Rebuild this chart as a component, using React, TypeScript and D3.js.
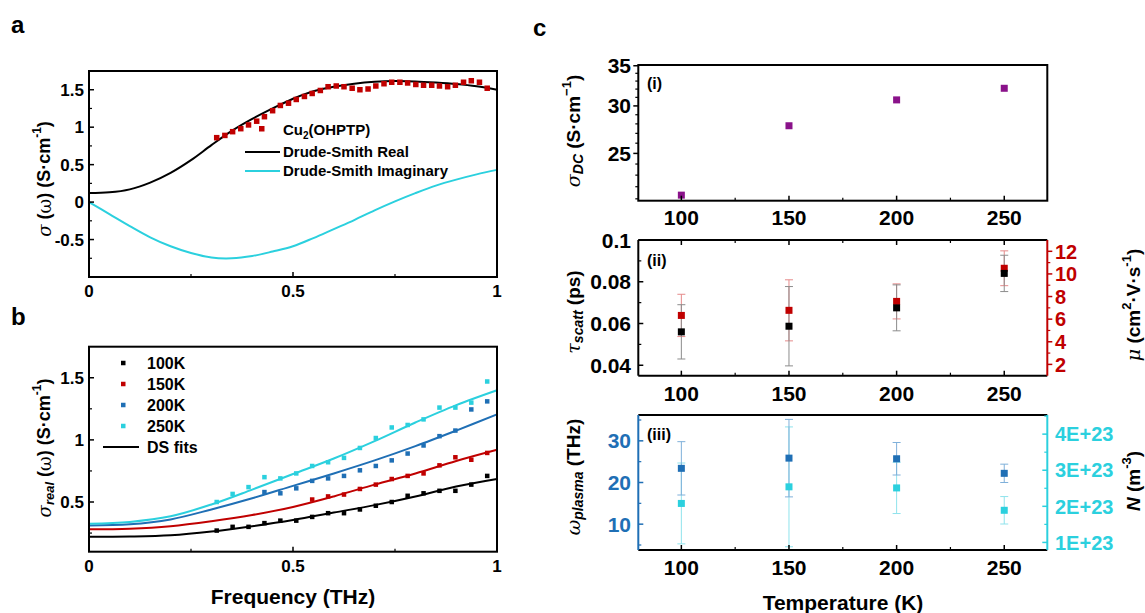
import React from 'react';
import * as d3 from 'd3';

const FONT = '"Liberation Sans", Arial, Helvetica, sans-serif';
const GREEK = '"DejaVu Serif", "Liberation Serif", serif';
const RED = '#c00000';
const BLUE = '#1f6fb5';
const CYAN = '#2bd0de';
const PURPLE = '#8a128a';

// ---- panel a : Cu2(OHPTP) spectrum + Drude-Smith fit
const freqA = [0.313, 0.333, 0.352, 0.372, 0.391, 0.411, 0.43, 0.45, 0.469, 0.489, 0.508, 0.528, 0.547, 0.567, 0.586, 0.606, 0.625, 0.645, 0.664, 0.684, 0.703, 0.723, 0.742, 0.762, 0.781, 0.801, 0.82, 0.84, 0.859, 0.879, 0.898, 0.918, 0.937, 0.957, 0.976];
const sigmaA = [0.86, 0.89, 0.94, 0.98, 1.03, 1.08, 1.14, 1.22, 1.29, 1.32, 1.37, 1.41, 1.45, 1.49, 1.54, 1.55, 1.54, 1.52, 1.5, 1.51, 1.55, 1.58, 1.6, 1.6, 1.59, 1.57, 1.56, 1.56, 1.55, 1.54, 1.56, 1.6, 1.62, 1.6, 1.52];
const fitFreqA = [0, 0.05, 0.1, 0.15, 0.2, 0.25, 0.3, 0.35, 0.4, 0.45, 0.5, 0.55, 0.6, 0.65, 0.7, 0.75, 0.8, 0.85, 0.9, 0.95, 1];
const dsReal = [0.12, 0.13, 0.17, 0.26, 0.39, 0.56, 0.76, 0.95, 1.11, 1.25, 1.38, 1.48, 1.54, 1.58, 1.605, 1.615, 1.61, 1.595, 1.575, 1.545, 1.5];
const dsImag = [0, -0.16, -0.32, -0.47, -0.59, -0.68, -0.74, -0.75, -0.72, -0.66, -0.59, -0.48, -0.36, -0.24, -0.11, 0.01, 0.12, 0.22, 0.3, 0.37, 0.43];

// ---- panel b : temperature series
const freqB = [0.313, 0.352, 0.391, 0.43, 0.469, 0.508, 0.547, 0.586, 0.625, 0.664, 0.703, 0.742, 0.781, 0.82, 0.859, 0.898, 0.937, 0.976];
const seriesNames = ['100K', '150K', '200K', '250K'];
const seriesColors = ['#000000', RED, BLUE, CYAN];
const s100 = [0.27, 0.3, 0.3, 0.33, 0.35, 0.35, 0.38, 0.41, 0.41, 0.44, 0.47, 0.5, 0.55, 0.57, 0.59, 0.59, 0.64, 0.71];
const s150 = [null, null, null, null, null, null, 0.52, 0.545, 0.56, 0.605, 0.64, 0.685, 0.71, 0.73, 0.795, 0.86, 0.84, 0.895];
const s200 = [null, null, null, 0.58, 0.57, 0.61, 0.67, 0.69, 0.71, 0.755, 0.79, 0.835, 0.89, 0.955, 1.03, 1.075, 1.245, 1.31];
const s250 = [0.5, 0.565, 0.62, 0.7, 0.69, 0.73, 0.79, 0.82, 0.855, 0.935, 1.015, 1.1, 1.12, 1.165, 1.26, 1.26, 1.3, 1.47];
const fitFreqB = [0, 0.1, 0.2, 0.3, 0.4, 0.5, 0.6, 0.7, 0.8, 0.9, 1];
const fit100 = [0.22, 0.222, 0.232, 0.262, 0.305, 0.355, 0.415, 0.475, 0.545, 0.625, 0.685];
const fit150 = [0.28, 0.285, 0.305, 0.345, 0.395, 0.46, 0.545, 0.64, 0.73, 0.83, 0.92];
const fit200 = [0.31, 0.32, 0.36, 0.44, 0.53, 0.63, 0.73, 0.835, 0.95, 1.075, 1.205];
const fit250 = [0.325, 0.34, 0.385, 0.48, 0.6, 0.725, 0.85, 0.99, 1.14, 1.28, 1.4];

// ---- panel c : fit parameters vs temperature
const temps = [100, 150, 200, 250];
const sigmaDC = [21.3, 27.8, 30.7, 32.1];
const tauScatt = [0.056, 0.0587, 0.0675, 0.084];
const tauErr = [0.013, 0.019, 0.011, 0.0087];
const mobility = [6.33, 6.78, 7.57, 10.5];
const mobilityErr = [1.87, 2.7, 1.55, 1.54];
const omegaP = [23.4, 25.85, 25.7, 22.2];
const omegaErr = [6.4, 9.3, 3.9, 2.2];
const carrierN = [2.08e23, 2.54e23, 2.51e23, 1.89e23];
const carrierErr = [1.12e23, 1.66e23, 0.71e23, 0.38e23];

const tempTicks = [100, 150, 200, 250];
const tempMinor = [125, 175, 225];
const nTicks = [1e23, 2e23, 3e23, 4e23];
const nTickLabels = ['1E+23', '2E+23', '3E+23', '4E+23'];

type Sc = (v: number) => number;

function yTicks(key: string, s: Sc, x: number, majors: number[], minors: number[], dir: number, color: string) {
  const out: any[] = [];
  majors.forEach((v, i) => out.push(<line key={key + 'M' + i} x1={x} x2={x + dir * 5} y1={s(v)} y2={s(v)} stroke={color} strokeWidth={1.5} />));
  minors.forEach((v, i) => out.push(<line key={key + 'm' + i} x1={x} x2={x + dir * 3} y1={s(v)} y2={s(v)} stroke={color} strokeWidth={1.2} />));
  return out;
}

function xTicks(key: string, s: Sc, y: number, majors: number[], minors: number[], dir: number, color: string) {
  const out: any[] = [];
  majors.forEach((v, i) => out.push(<line key={key + 'M' + i} y1={y} y2={y + dir * 5} x1={s(v)} x2={s(v)} stroke={color} strokeWidth={1.5} />));
  minors.forEach((v, i) => out.push(<line key={key + 'm' + i} y1={y} y2={y + dir * 3} x1={s(v)} x2={s(v)} stroke={color} strokeWidth={1.2} />));
  return out;
}

function squares(key: string, xs: number[], ys: (number | null)[], sx: Sc, sy: Sc, size: number, color: string) {
  return ys.map((v, i) => v == null ? null : (
    <rect key={key + i} x={sx(xs[i]) - size / 2} y={sy(v) - size / 2} width={size} height={size} fill={color} />
  ));
}

function errBars(key: string, xs: number[], ys: number[], es: number[], sx: Sc, sy: Sc, color: string) {
  return ys.map((v, i) => {
    const x = sx(xs[i]);
    const t = sy(v + es[i]);
    const b = sy(v - es[i]);
    return (
      <g key={key + i} stroke={color} strokeWidth={1}>
        <line x1={x} x2={x} y1={t} y2={b} />
        <line x1={x - 4} x2={x + 4} y1={t} y2={t} />
        <line x1={x - 4} x2={x + 4} y1={b} y2={b} />
      </g>
    );
  });
}

export default function App() {
  const xA = d3.scaleLinear().domain([0, 1]).range([89, 497]);
  const yA = d3.scaleLinear().domain([-1, 1.75]).range([277, 71]);
  const yB = d3.scaleLinear().domain([0.1, 1.75]).range([551.7, 346.7]);
  const xC = d3.scaleLinear().domain([80, 270]).range([638.3, 1047.3]);
  const yC1 = d3.scaleLog().domain([20.85, 35.1]).range([200.7, 65]);
  const yC2L = d3.scaleLinear().domain([0.035, 0.1]).range([375.7, 240]);
  const yC2R = d3.scaleLinear().domain([1, 13]).range([375.7, 240]);
  const yC3L = d3.scaleLinear().domain([3.8, 36.2]).range([550, 415]);
  const yC3R = d3.scaleLinear().domain([0.79e23, 4.53e23]).range([550, 415]);

  const lineA = (ys: number[]) => d3.line<number>().x((_, i) => xA(fitFreqA[i])).y(d => yA(d)).curve(d3.curveCatmullRom)(ys) || '';
  const lineB = (ys: number[]) => d3.line<number>().x((_, i) => xA(fitFreqB[i])).y(d => yB(d)).curve(d3.curveCatmullRom)(ys) || '';

  const bSeries = [s100, s150, s200, s250];
  const bFits = [fit100, fit150, fit200, fit250];

  const tickFs = 17;
  const cFs = 21;
  const [cx0, cx1] = xC.range();

  const tempLabels = (key: string, y: number) => tempTicks.map((t, i) => (
    <text key={key + i} x={xC(t)} y={y} textAnchor="middle" fontSize={cFs}>{t}</text>
  ));

  return (
    <svg width={1145} height={613} style={{ position: 'absolute', left: 0, top: 0, background: '#fff' }}
      fontFamily={FONT} fontWeight="bold">
      {/* panel letters */}
      <text x={11} y={33} fontSize={24}>a</text>
      <text x={11} y={325} fontSize={24}>b</text>
      <text x={533} y={36} fontSize={24}>c</text>

      {/* ================= panel a ================= */}
      <path d={lineA(dsReal)} fill="none" stroke="#000" strokeWidth={2} />
      <path d={lineA(dsImag)} fill="none" stroke={CYAN} strokeWidth={2} />
      {squares('pa', freqA, sigmaA, xA, yA, 5.5, RED)}
      <rect x={89} y={71} width={408} height={206} fill="none" stroke="#000" strokeWidth={2} />
      {yTicks('ay', yA, 89, [-0.5, 0, 0.5, 1, 1.5], [-0.75, -0.25, 0.25, 0.75, 1.25], 1, '#000')}
      {xTicks('ax', xA, 277, [0, 0.5, 1], [0.25, 0.75], -1, '#000')}
      {[-0.5, 0, 0.5, 1, 1.5].map((v, i) => (
        <text key={'aly' + i} x={84} y={yA(v)} dy="0.36em" textAnchor="end" fontSize={tickFs}>{String(v)}</text>
      ))}
      {[0, 0.5, 1].map((v, i) => (
        <text key={'alx' + i} x={xA(v)} y={297} textAnchor="middle" fontSize={tickFs}>{String(v)}</text>
      ))}
      <text transform="translate(44,179) rotate(-90)" textAnchor="middle" dominantBaseline="central" fontSize={18}>
        <tspan fontFamily={GREEK} fontStyle="italic" fontWeight="normal">σ</tspan>
        <tspan> (</tspan><tspan fontFamily={GREEK} fontWeight="normal">ω</tspan><tspan>) (S·cm</tspan>
        <tspan dy={-7} fontSize={12}>-1</tspan><tspan dy={7}>)</tspan>
      </text>
      {/* legend a */}
      <rect x={259} y={126} width={5.5} height={5.5} fill={RED} />
      <text x={283} y={135} fontSize={15}>Cu<tspan dy={4} fontSize={10}>2</tspan><tspan dy={-4}>(OHPTP)</tspan></text>
      <line x1={245} x2={280} y1={152} y2={152} stroke="#000" strokeWidth={2} />
      <text x={283} y={157} fontSize={15}>Drude-Smith Real</text>
      <line x1={245} x2={280} y1={171} y2={171} stroke={CYAN} strokeWidth={2} />
      <text x={283} y={176} fontSize={15}>Drude-Smith Imaginary</text>

      {/* ================= panel b ================= */}
      {bFits.map((f, k) => (
        <path key={'bf' + k} d={lineB(f)} fill="none" stroke={seriesColors[k]} strokeWidth={2} />
      ))}
      {bSeries.map((s, k) => squares('pb' + k, freqB, s, xA, yB, 4.5, seriesColors[k]))}
      <rect x={89} y={346.7} width={408} height={205} fill="none" stroke="#000" strokeWidth={2} />
      {yTicks('by', yB, 89, [0.5, 1, 1.5], [0.25, 0.75, 1.25], 1, '#000')}
      {xTicks('bx', xA, 551.7, [0, 0.5, 1], [0.25, 0.75], -1, '#000')}
      {[0.5, 1, 1.5].map((v, i) => (
        <text key={'bly' + i} x={84} y={yB(v)} dy="0.36em" textAnchor="end" fontSize={tickFs}>{String(v)}</text>
      ))}
      {[0, 0.5, 1].map((v, i) => (
        <text key={'blx' + i} x={xA(v)} y={572} textAnchor="middle" fontSize={tickFs}>{String(v)}</text>
      ))}
      <text x={293} y={604} textAnchor="middle" fontSize={21}>Frequency (THz)</text>
      <text transform="translate(44,448) rotate(-90)" textAnchor="middle" dominantBaseline="central" fontSize={18}>
        <tspan fontFamily={GREEK} fontStyle="italic" fontWeight="normal">σ</tspan>
        <tspan dy={5} fontSize={13} fontStyle="italic">real</tspan>
        <tspan dy={-5}> (</tspan><tspan fontFamily={GREEK} fontWeight="normal">ω</tspan><tspan>) (S·cm</tspan>
        <tspan dy={-7} fontSize={12}>-1</tspan><tspan dy={7}>)</tspan>
      </text>
      {/* legend b */}
      {seriesNames.map((n, k) => (
        <g key={'lb' + k}>
          <rect x={121} y={363 + k * 21 - 2.25} width={4.5} height={4.5} fill={seriesColors[k]} />
          <text x={147} y={363 + k * 21 + 6} fontSize={16}>{n}</text>
        </g>
      ))}
      <line x1={103} x2={139} y1={447} y2={447} stroke="#000" strokeWidth={2} />
      <text x={147} y={453} fontSize={16}>DS fits</text>

      {/* ================= panel c(i) ================= */}
      {squares('c1', temps, sigmaDC, xC, yC1, 7, PURPLE)}
      <rect x={cx0} y={65} width={cx1 - cx0} height={135.7} fill="none" stroke="#000" strokeWidth={2} />
      {yTicks('c1y', yC1, cx0, [25, 30, 35], [21, 22, 23, 24, 26, 27, 28, 29, 31, 32, 33, 34], -1, '#000')}
      {xTicks('c1x', xC, 200.7, tempTicks, tempMinor, -1, '#000')}
      {[25, 30, 35].map((v, i) => (
        <text key={'c1l' + i} x={631} y={yC1(v)} dy="0.36em" textAnchor="end" fontSize={cFs}>{v}</text>
      ))}
      {tempLabels('c1t', 225)}
      <text x={647} y={89} fontSize={16}>(i)</text>
      <text transform="translate(573,131) rotate(-90)" textAnchor="middle" dominantBaseline="central" fontSize={19}>
        <tspan fontFamily={GREEK} fontStyle="italic" fontWeight="normal">σ</tspan>
        <tspan dy={5} fontSize={14} fontStyle="italic">DC</tspan>
        <tspan dy={-5}> (S·cm</tspan><tspan dy={-7} fontSize={13}>−1</tspan><tspan dy={7}>)</tspan>
      </text>

      {/* ================= panel c(ii) ================= */}
      {errBars('c2re', temps, mobility, mobilityErr, xC, yC2R, '#e58a8a')}
      {errBars('c2be', temps, tauScatt, tauErr, xC, yC2L, '#8c8c8c')}
      {squares('c2r', temps, mobility, xC, yC2R, 7, RED)}
      {squares('c2b', temps, tauScatt, xC, yC2L, 7, '#000')}
      <line x1={cx0} x2={cx1} y1={240} y2={240} stroke="#000" strokeWidth={2} />
      <line x1={cx0} x2={cx1} y1={375.7} y2={375.7} stroke="#000" strokeWidth={2} />
      <line x1={cx0} x2={cx0} y1={240} y2={375.7} stroke="#000" strokeWidth={2} />
      <line x1={cx1} x2={cx1} y1={240} y2={375.7} stroke={RED} strokeWidth={2} />
      {yTicks('c2ly', yC2L, cx0, [0.04, 0.06, 0.08, 0.1], [0.05, 0.07, 0.09], 1, '#000')}
      {yTicks('c2ry', yC2R, cx1, [2, 4, 6, 8, 10, 12], [3, 5, 7, 9, 11], 1, RED)}
      {xTicks('c2x', xC, 375.7, tempTicks, tempMinor, -1, '#000')}
      {xTicks('c2xt', xC, 240, tempTicks, tempMinor, 1, '#000')}
      {[0.04, 0.06, 0.08, 0.1].map((v, i) => (
        <text key={'c2l' + i} x={631} y={yC2L(v)} dy="0.36em" textAnchor="end" fontSize={cFs}>{String(v)}</text>
      ))}
      {[2, 4, 6, 8, 10, 12].map((v, i) => (
        <text key={'c2r' + i} x={1055} y={yC2R(v)} dy="0.36em" fontSize={20} fill={RED}>{v}</text>
      ))}
      {tempLabels('c2t', 401)}
      <text x={647} y={266} fontSize={16}>(ii)</text>
      <text transform="translate(573,312) rotate(-90)" textAnchor="middle" dominantBaseline="central" fontSize={19}>
        <tspan fontFamily={GREEK} fontStyle="italic" fontWeight="normal">τ</tspan>
        <tspan dy={5} fontSize={14} fontStyle="italic">scatt</tspan>
        <tspan dy={-5}> (ps)</tspan>
      </text>
      <text transform="translate(1133,305) rotate(-90)" textAnchor="middle" dominantBaseline="central" fontSize={19}>
        <tspan fontFamily={GREEK} fontStyle="italic" fontWeight="normal">μ</tspan>
        <tspan> (cm</tspan><tspan dy={-7} fontSize={13}>2</tspan><tspan dy={7}>·V·s</tspan>
        <tspan dy={-7} fontSize={13}>-1</tspan><tspan dy={7}>)</tspan>
      </text>

      {/* ================= panel c(iii) ================= */}
      {errBars('c3ne', temps, carrierN, carrierErr, xC, yC3R, '#8fe3ec')}
      {errBars('c3we', temps, omegaP, omegaErr, xC, yC3L, '#7fb0da')}
      {squares('c3n', temps, carrierN, xC, yC3R, 7, CYAN)}
      {squares('c3w', temps, omegaP, xC, yC3L, 7, BLUE)}
      <line x1={cx0} x2={cx1} y1={415} y2={415} stroke="#000" strokeWidth={2} />
      <line x1={cx0} x2={cx1} y1={550} y2={550} stroke="#000" strokeWidth={2} />
      <line x1={cx0} x2={cx0} y1={415} y2={550} stroke={BLUE} strokeWidth={2} />
      <line x1={cx1} x2={cx1} y1={415} y2={550} stroke={CYAN} strokeWidth={2} />
      {yTicks('c3ly', yC3L, cx0, [10, 20, 30], [5, 15, 25, 35], 1, BLUE)}
      {yTicks('c3ry', yC3R, cx1, nTicks, [1.5e23, 2.5e23, 3.5e23, 4.5e23], -1, CYAN)}
      {xTicks('c3x', xC, 550, tempTicks, tempMinor, -1, '#000')}
      {[10, 20, 30].map((v, i) => (
        <text key={'c3l' + i} x={631} y={yC3L(v)} dy="0.36em" textAnchor="end" fontSize={cFs} fill={BLUE}>{v}</text>
      ))}
      {nTicks.map((v, i) => (
        <text key={'c3r' + i} x={1055} y={yC3R(v)} dy="0.36em" fontSize={20} fill={CYAN}>{nTickLabels[i]}</text>
      ))}
      {tempLabels('c3t', 575)}
      <text x={647} y={440} fontSize={16}>(iii)</text>
      <text x={843} y={610} textAnchor="middle" fontSize={21}>Temperature (K)</text>
      <text transform="translate(573,477) rotate(-90)" textAnchor="middle" dominantBaseline="central" fontSize={19}>
        <tspan fontFamily={GREEK} fontStyle="italic" fontWeight="normal">ω</tspan>
        <tspan dy={5} fontSize={14} fontStyle="italic">plasma</tspan>
        <tspan dy={-5}> (THz)</tspan>
      </text>
      <text transform="translate(1133,481) rotate(-90)" textAnchor="middle" dominantBaseline="central" fontSize={19}>
        <tspan fontStyle="italic">N</tspan>
        <tspan> (m</tspan><tspan dy={-7} fontSize={13}>-3</tspan><tspan dy={7}>)</tspan>
      </text>
    </svg>
  );
}
